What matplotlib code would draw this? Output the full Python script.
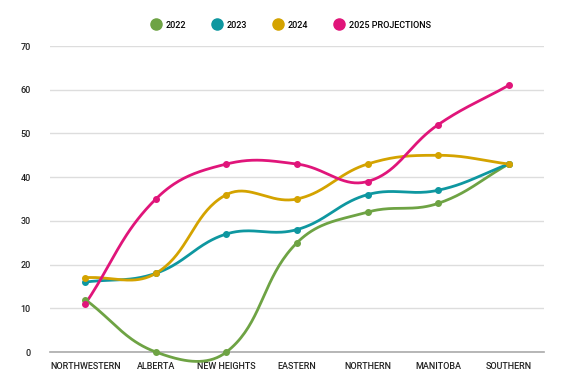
import numpy as np
import matplotlib
matplotlib.use("Agg")
import matplotlib.pyplot as plt
from matplotlib.lines import Line2D

plt.rcParams['font.family'] = ['Roboto', 'DejaVu Sans']

# Chart data
regions = ['NORTHWESTERN', 'ALBERTA', 'NEW HEIGHTS', 'EASTERN', 'NORTHERN', 'MANITOBA', 'SOUTHERN']
series_names = ['2022', '2023', '2024', '2025 PROJECTIONS']
values_2022 = [12, 0, 0, 25, 32, 34, 43]
values_2023 = [16, 18, 27, 28, 36, 37, 43]
values_2024 = [17, 18, 36, 35, 43, 45, 43]
values_2025 = [11, 35, 43, 43, 39, 52, 61]
colors = ['#6ea344', '#0e97a0', '#d4a300', '#e0157a']

y_max = 70
px_per_x = 71.0
px_per_y = 306.0 / y_max


def spline_curve(xs, ys, tension=0.4, steps=40):
    # chart.js style bezier smoothing, computed in pixel space
    px = np.asarray(xs, float) * px_per_x
    py = np.asarray(ys, float) * px_per_y
    n = len(px)
    cp_prev = []
    cp_next = []
    for i in range(n):
        p0 = i - 1 if i > 0 else i
        p2 = i + 1 if i < n - 1 else i
        d01 = np.hypot(px[i] - px[p0], py[i] - py[p0])
        d12 = np.hypot(px[p2] - px[i], py[p2] - py[i])
        tot = d01 + d12
        s01 = d01 / tot if tot else 0
        s12 = d12 / tot if tot else 0
        fa = tension * s01
        fb = tension * s12
        dx = px[p2] - px[p0]
        dy = py[p2] - py[p0]
        cp_prev.append((px[i] - fa * dx, py[i] - fa * dy))
        cp_next.append((px[i] + fb * dx, py[i] + fb * dy))
    t = np.linspace(0, 1, steps)
    out_x, out_y = [], []
    for i in range(n - 1):
        a = np.array([px[i], py[i]])
        b = np.array(cp_next[i])
        c = np.array(cp_prev[i + 1])
        d = np.array([px[i + 1], py[i + 1]])
        pts = ((1 - t) ** 3)[:, None] * a + (3 * (1 - t) ** 2 * t)[:, None] * b \
            + (3 * (1 - t) * t ** 2)[:, None] * c + (t ** 3)[:, None] * d
        out_x.extend(pts[:, 0])
        out_y.extend(pts[:, 1])
    return np.array(out_x) / px_per_x, np.array(out_y) / px_per_y


fig = plt.figure(figsize=(5.78, 3.79), dpi=100)
ax = fig.add_axes([50 / 578, 1 - 352 / 379, 494 / 578, 306 / 379])

x = np.arange(len(regions))
all_series = [values_2022, values_2023, values_2024, values_2025]
for vals, col in zip(all_series, colors):
    sx, sy = spline_curve(x, vals)
    ax.plot(sx, sy, color=col, lw=2, zorder=3, solid_capstyle='round', clip_on=False)
    ax.plot(x, vals, 'o', color=col, ms=4, zorder=4, clip_on=False)

ax.set_xlim(-0.5, len(regions) - 0.5)
ax.set_ylim(0, y_max)
ax.set_yticks(range(0, 71, 10))
ax.set_xticks(x)
ax.set_xticklabels(regions)
ax.tick_params(axis='both', length=0, labelsize=6.5, colors='#222222')
ax.tick_params(axis='x', pad=7)
ax.tick_params(axis='y', pad=14)
for lbl in ax.get_xticklabels() + ax.get_yticklabels():
    lbl.set_fontweight('medium')
ax.grid(axis='y', color='#dddddd', lw=1)
ax.set_axisbelow(True)
for s in ['top', 'right', 'left']:
    ax.spines[s].set_visible(False)
ax.spines['bottom'].set_color('#aaaaaa')
ax.spines['bottom'].set_linewidth(1.2)
ax.spines['bottom'].set_zorder(2)

handles = [Line2D([], [], marker='o', ls='', color=c, ms=8) for c in colors]
fig.legend(handles, series_names, loc='center', bbox_to_anchor=(0.5, 1 - 25 / 379),
           ncol=4, frameon=False, handletextpad=0.1, columnspacing=2.4,
           prop={'weight': 'medium', 'size': 6.5})

fig.savefig('out.png', dpi=100)
